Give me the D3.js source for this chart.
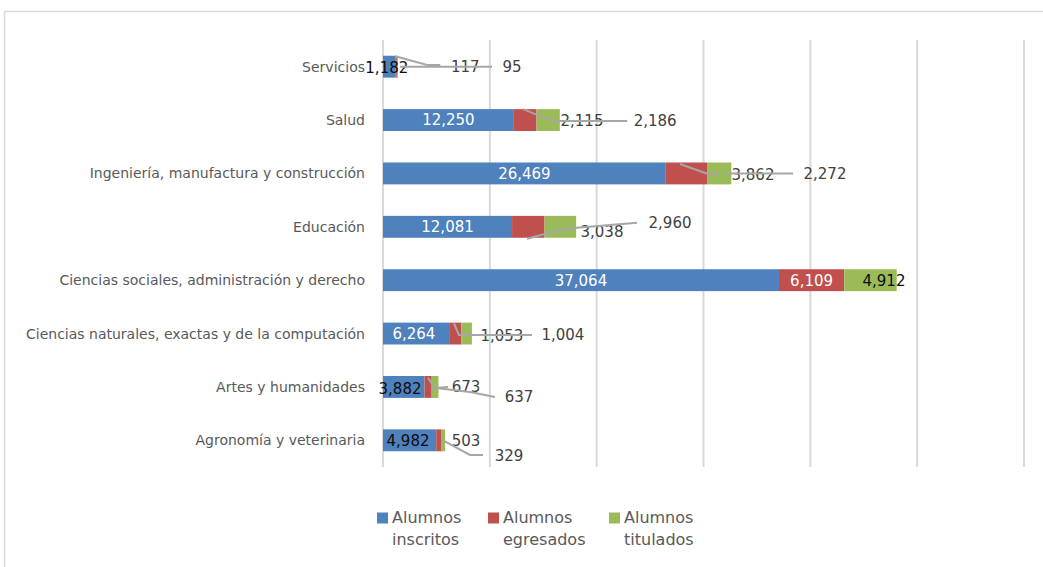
<!DOCTYPE html>
<html>
<head>
<meta charset="utf-8">
<script src="https://cdn.jsdelivr.net/npm/d3@7"></script>
<style>
  html, body { margin: 0; padding: 0; background: #fff; }
  svg { display: block; }
</style>
</head>
<body>
<svg id="chart" width="1043" height="567"></svg>
<script>
// ---------------- DATA ----------------
const categories = [
  "Servicios",
  "Salud",
  "Ingeniería, manufactura y construcción",
  "Educación",
  "Ciencias sociales, administración y derecho",
  "Ciencias naturales, exactas y de la computación",
  "Artes y humanidades",
  "Agronomía y veterinaria"
];
const inscritos = [1182, 12250, 26469, 12081, 37064, 6264, 3882, 4982];
const egresados = [117, 2115, 3862, 3038, 6109, 1053, 673, 503];
const titulados = [95, 2186, 2272, 2960, 4912, 1004, 637, 329];
const seriesNames = [["Alumnos", "inscritos"], ["Alumnos", "egresados"], ["Alumnos", "titulados"]];
const xTicks = [0, 10000, 20000, 30000, 40000, 50000, 60000];

// ---------------- STYLE / LAYOUT ----------------
const colors = ["#4f81bd", "#c0504d", "#9bbb59"];
const font = "'DejaVu Sans', sans-serif";
const plot = { left: 383, right: 1024, top: 40, bottom: 467 };

// label placement: offset of label centre from segment centre, leader polyline (offsets), colour
// indexed [category][series]
const labelLayout = [
  [ {dx: -2.5, dy: 0.5, c: "#0d0d0d"},
    {dx: 69, dy: -0.5, c: "#404040", lead: [[-1,-10.5],[31,-1.7],[44,-1.7]]},
    {dx: 114.6, dy: 0, c: "#404040", lead: [[2.6,0],[94.6,0]]} ],
  [ {dx: 0, dy: 0, c: "#fff"},
    {dx: 56.8, dy: 1, c: "#404040", lead: [[-2,-11],[27,1],[40,1]]},
    {dx: 107, dy: 1, c: "#404040", lead: [[7,1],[79,1]]} ],
  [ {dx: 0, dy: 0, c: "#fff"},
    {dx: 66.6, dy: 1, c: "#404040", lead: [[-6.4,-9.4],[21.6,0.6],[34,0.6]]},
    {dx: 105.8, dy: 0, c: "#404040", lead: [[6,0],[74,0]]} ],
  [ {dx: 0, dy: 0, c: "#fff"},
    {dx: 73.7, dy: 5, c: "#404040", lead: [[-1.3,11.9],[31.7,3.2],[45.7,1.2]]},
    {dx: 109.7, dy: -4, c: "#404040", lead: [[13.7,1.2],[76.7,-4.1]]} ],
  [ {dx: 0, dy: 0, c: "#fff"},
    {dx: 0, dy: 0, c: "#fff"},
    {dx: 13.5, dy: 0, c: "#0d0d0d"} ],
  [ {dx: -2.5, dy: 0, c: "#fff"},
    {dx: 46.4, dy: 2, c: "#404040", lead: [[-1.6,-10.3],[3.4,1.4],[22,1.4]]},
    {dx: 96.4, dy: 1.4, c: "#404040", lead: [[1.4,1.4],[65.4,1.4]]} ],
  [ {dx: -3.7, dy: 2, c: "#0d0d0d"},
    {dx: 37.9, dy: 0, c: "#404040", lead: [[-0.1,-9],[6.9,1],[19.9,0]]},
    {dx: 83.9, dy: 10, c: "#404040", lead: [[0.9,1],[34.9,5],[59.9,10]]} ],
  [ {dx: -1.6, dy: 0.5, c: "#0d0d0d"},
    {dx: 27.1, dy: 0, c: "#404040"},
    {dx: 65.6, dy: 15.6, c: "#404040", lead: [[-0.4,0],[26.6,14.6],[39.6,14.6]]} ]
];
const legendX = [377, 488, 609];

// ---------------- DRAW ----------------
const svg = d3.select("#chart");

// outer frame
svg.append("rect")
  .attr("x", 4.5).attr("y", 11.5).attr("width", 1060).attr("height", 580)
  .attr("fill", "#fff").attr("stroke", "#d9d9d9").attr("stroke-width", 1.5);

const x = d3.scaleLinear().domain([0, 60000]).range([plot.left, plot.right]);
const y = d3.scaleBand().domain(categories).range([plot.top, plot.bottom])
  .paddingInner(0.59).paddingOuter(0.295);

// gridlines
svg.append("g").selectAll("line").data(xTicks).join("line")
  .attr("x1", d => x(d)).attr("x2", d => x(d))
  .attr("y1", plot.top).attr("y2", plot.bottom)
  .attr("stroke", "#d9d9d9").attr("stroke-width", 2);

// stacked data
const rows = categories.map((c, i) => ({ cat: c, v: [inscritos[i], egresados[i], titulados[i]] }));
const stack = d3.stack().keys([0, 1, 2]).value((d, k) => d.v[k]);
const stacked = stack(rows);

// bars
svg.append("g").selectAll("g").data(stacked).join("g")
  .attr("fill", (d, i) => colors[i])
  .selectAll("rect").data(d => d).join("rect")
  .attr("x", d => x(d[0]))
  .attr("y", d => y(d.data.cat))
  .attr("width", d => x(d[1]) - x(d[0]))
  .attr("height", y.bandwidth());

// category labels
svg.append("g").selectAll("text").data(categories).join("text")
  .attr("x", plot.left - 18)
  .attr("y", d => y(d) + y.bandwidth() / 2)
  .attr("dy", "0.36em")
  .attr("text-anchor", "end")
  .attr("font-family", font).attr("font-size", 14)
  .attr("fill", "#595959")
  .text(d => d);

// data labels + leader lines
const fmt = d3.format(",");
const labelG = svg.append("g");
const leadG = svg.append("g");
stacked.forEach((ser, si) => {
  ser.forEach((seg, ci) => {
    const L = labelLayout[ci][si];
    const cx = (x(seg[0]) + x(seg[1])) / 2;
    const cy = y(seg.data.cat) + y.bandwidth() / 2;
    labelG.append("text")
      .attr("x", cx + L.dx).attr("y", cy + L.dy).attr("dy", "0.36em")
      .attr("text-anchor", "middle")
      .attr("font-family", font).attr("font-size", 15)
      .attr("fill", L.c)
      .text(fmt(seg.data.v[si]));
    if (L.lead) {
      leadG.append("path")
        .attr("d", d3.line()(L.lead.map(p => [cx + p[0], cy + p[1]])))
        .attr("fill", "none").attr("stroke", "#a6a6a6").attr("stroke-width", 2);
    }
  });
});

// legend
const lg = svg.append("g").selectAll("g").data(seriesNames).join("g")
  .attr("transform", (d, i) => `translate(${legendX[i]},0)`);
lg.append("rect").attr("x", 0).attr("y", 512.5).attr("width", 11).attr("height", 11)
  .attr("fill", (d, i) => colors[i]);
lg.append("text").attr("x", 15).attr("y", 523)
  .attr("font-family", font).attr("font-size", 16).attr("fill", "#595959")
  .text(d => d[0]);
lg.append("text").attr("x", 15).attr("y", 545)
  .attr("font-family", font).attr("font-size", 16).attr("fill", "#595959")
  .text(d => d[1]);
</script>
</body>
</html>
